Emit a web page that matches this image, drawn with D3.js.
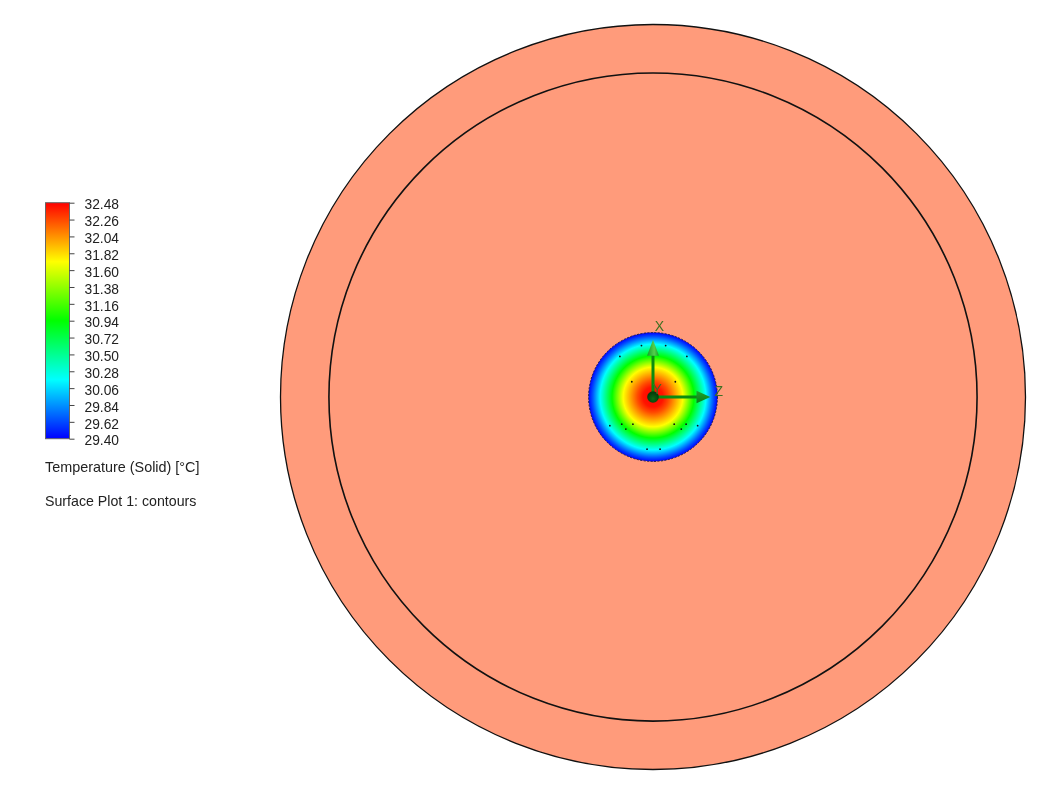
<!DOCTYPE html>
<html>
<head>
<meta charset="utf-8">
<script src="https://cdn.jsdelivr.net/npm/d3@7"></script>
<style>
	html, body { margin: 0; padding: 0; background: #fff; }
	svg { display: block; filter: blur(0.35px); }
	text { font-family: "Liberation Sans", Arial, sans-serif; fill: #222; }
</style>
</head>
<body>
<svg id="chart" width="1038" height="807"></svg>
<script>
// legend
const legendTicks = [32.48, 32.26, 32.04, 31.82, 31.60, 31.38, 31.16, 30.94, 30.72, 30.50, 30.28, 30.06, 29.84, 29.62, 29.40];
const legendTitle = "Temperature (Solid) [°C]";
const plotTitle = "Surface Plot 1: contours";

// colour map of the plot, temperature -> colour
const mapTemps = [29.40, 30.17, 30.94, 31.71, 32.48];
const mapColors = ["#0000ff", "#00ffff", "#00ff00", "#ffff00", "#ff0000"];

// model radii, outer shell = 100
const outerRadius = 100;
const innerRadius = 87;
const hubRadius = 17.3;

// temperature read across the hub (radius in model units)
const profileR = [0, 2.7, 4.2, 5.6, 8.0, 11.0, 14.2, 16.2, 17.3];
const profileT = [32.48, 32.42, 32.25, 32.05, 31.71, 30.94, 30.17, 29.65, 29.40];

// small black mesh points on the hub
const pinX = [-3.1, 3.4, -8.9, 9.1, -5.7, 6.0, -11.6, -8.4, -7.3, -5.4, 5.7, 7.6, 8.9, 12.0, -1.6, 1.9];
const pinY = [13.8, 13.8, 10.9, 10.9, 4.1, 4.1, -7.7, -7.3, -8.6, -7.3, -7.3, -8.6, -7.3, -7.7, -14.0, -14.0];

const svg = d3.select("#chart");
const defs = svg.append("defs");

const color = d3.scaleLinear().domain(mapTemps).range(mapColors);

// plot scales share the same px per unit, y is flipped
const x = d3.scaleLinear().domain([-100, 100]).range([281, 1025]);
const y = d3.scaleLinear().domain([-100, 100]).range([769.5, 24.5]);
const rad = d3.scaleLinear().domain([0, 100]).range([0, 372.5]);

// *** shell ***
const salmon = "#ff9b7b";
const plot = svg.append("g");
plot.append("circle")
	.attr("cx", x(0)).attr("cy", y(0)).attr("r", rad(outerRadius))
	.attr("fill", salmon).attr("stroke", "#111").attr("stroke-width", 1.3);
plot.append("circle")
	.attr("cx", x(0)).attr("cy", y(0)).attr("r", rad(innerRadius))
	.attr("fill", salmon).attr("stroke", "#111").attr("stroke-width", 1.6);

// *** hub contours ***
const hubGrad = defs.append("radialGradient").attr("id", "hubGrad");
hubGrad.selectAll("stop").data(profileR).join("stop")
	.attr("offset", d => d / hubRadius)
	.attr("stop-color", (d, i) => color(profileT[i]));
plot.append("circle")
	.attr("cx", x(0)).attr("cy", y(0)).attr("r", rad(hubRadius))
	.attr("fill", "url(#hubGrad)")
	.attr("stroke", "#20204a").attr("stroke-width", 1).attr("stroke-dasharray", "2 1.5");

plot.selectAll(".pin").data(pinX).join("circle")
	.attr("class", "pin")
	.attr("cx", d => x(d))
	.attr("cy", (d, i) => y(pinY[i]))
	.attr("r", 0.9)
	.attr("fill", "#111");

// *** axis triad, model units again ***
const triad = plot.append("g");
const shaft = "#0a8c10";
const headGradY = defs.append("linearGradient").attr("id", "headY")
	.attr("x1", 0).attr("x2", 1).attr("y1", 0).attr("y2", 0);
headGradY.append("stop").attr("offset", 0).attr("stop-color", "#17992a");
headGradY.append("stop").attr("offset", 0.6).attr("stop-color", "#55cf4c");
headGradY.append("stop").attr("offset", 1).attr("stop-color", "#17a02a");
const headGradZ = defs.append("linearGradient").attr("id", "headZ")
	.attr("x1", 0).attr("x2", 0).attr("y1", 0).attr("y2", 1);
headGradZ.append("stop").attr("offset", 0).attr("stop-color", "#22a42c");
headGradZ.append("stop").attr("offset", 1).attr("stop-color", "#0a7e16");

triad.append("line")
	.attr("x1", x(0)).attr("y1", y(0)).attr("x2", x(0)).attr("y2", y(12))
	.attr("stroke", shaft).attr("stroke-width", 3);
triad.append("line")
	.attr("x1", x(0)).attr("y1", y(0)).attr("x2", x(12)).attr("y2", y(0))
	.attr("stroke", shaft).attr("stroke-width", 3);
triad.append("path")
	.attr("d", d3.line()([[x(0), y(15.4)], [x(-1.6), y(11.1)], [x(1.6), y(11.1)]]))
	.attr("fill", "url(#headY)");
triad.append("path")
	.attr("d", d3.line()([[x(15.4), y(0)], [x(11.7), y(1.7)], [x(11.7), y(-1.7)]]))
	.attr("fill", "url(#headZ)");

const ballGrad = defs.append("radialGradient").attr("id", "ball").attr("cx", 0.5).attr("cy", 0.65);
ballGrad.append("stop").attr("offset", 0).attr("stop-color", "#0d6a16");
ballGrad.append("stop").attr("offset", 1).attr("stop-color", "#04400c");
triad.append("circle")
	.attr("cx", x(0)).attr("cy", y(0)).attr("r", 5.8)
	.attr("fill", "url(#ball)");

const triadLabel = (t, ux, uy) => triad.append("text")
	.attr("x", x(ux)).attr("y", y(uy))
	.attr("text-anchor", "middle")
	.style("font-size", "14px")
	.style("fill", "#3f6f22")
	.text(t);
triadLabel("X", 1.7, 17.8);
triadLabel("Y", 1.1, 0.9);
triadLabel("Z", 17.7, 0.4);

// *** legend ***
const legendY = d3.scaleLinear().domain([29.40, 32.48]).range([438.7, 202.7]);

const barGrad = defs.append("linearGradient").attr("id", "bar")
	.attr("x1", 0).attr("x2", 0).attr("y1", 1).attr("y2", 0);
barGrad.selectAll("stop").data(mapTemps).join("stop")
	.attr("offset", d => (d - 29.40) / (32.48 - 29.40))
	.attr("stop-color", d => color(d));

const legend = svg.append("g");
legend.append("rect")
	.attr("x", 45.5).attr("y", legendY(32.48))
	.attr("width", 24).attr("height", legendY(29.40) - legendY(32.48))
	.attr("fill", "url(#bar)").attr("stroke", "#666").attr("stroke-width", 1);

const legendAxis = legend.append("g")
	.attr("transform", "translate(69.5,0)")
	.call(d3.axisRight(legendY).tickValues(legendTicks).tickSize(5).tickPadding(10).tickFormat(d3.format(".2f")));
legendAxis.select(".domain").remove();
legendAxis.selectAll("line").attr("stroke", "#444");
legendAxis.selectAll("text")
	.attr("dy", "0.45em")
	.style("font-size", "13.8px")
	.style("font-family", '"Liberation Sans", Arial, sans-serif')
	.style("fill", "#222");

legend.append("text").attr("x", 45).attr("y", 472).style("font-size", "14.4px").text(legendTitle);
legend.append("text").attr("x", 45).attr("y", 506).style("font-size", "14.2px").text(plotTitle);
</script>
</body>
</html>
